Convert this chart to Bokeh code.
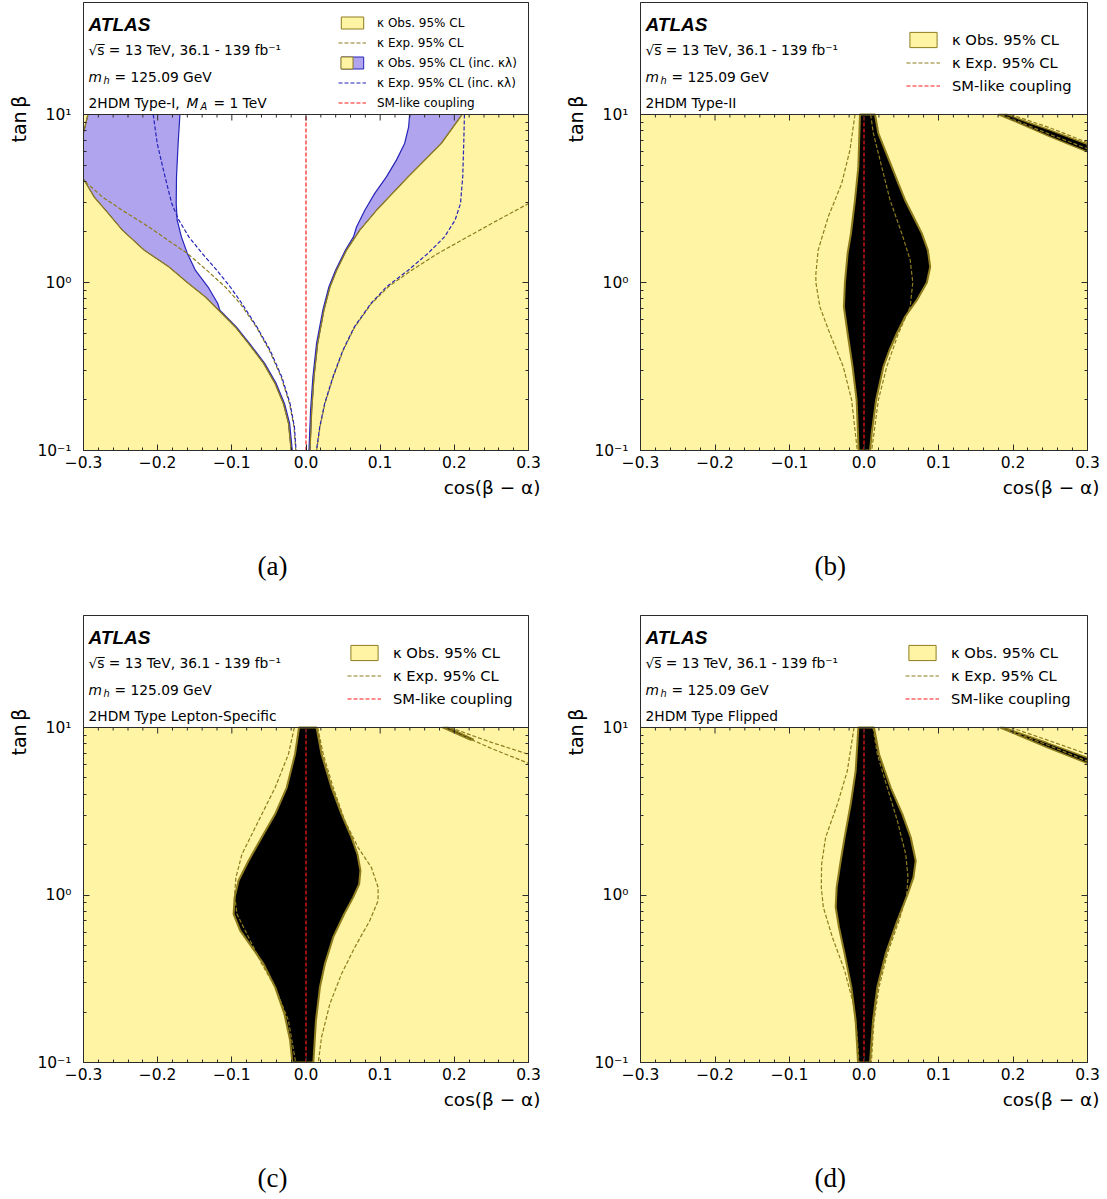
import math
from bokeh.plotting import figure
from bokeh.models import (Range1d, LogAxis, FixedTicker, CustomJSTickFormatter,
                          Label, Legend, LegendItem, Span, Title)
from bokeh.layouts import column, row
from bokeh.embed import file_html
from bokeh.resources import INLINE

# ---------------------------------------------------------------- data
COS_RANGE = [-0.3, 0.3]
TANB_RANGE = [0.1, 10.0]
X_TICKS = [-0.3, -0.2, -0.1, 0.0, 0.1, 0.2, 0.3]
X_MINOR_TICKS = [-0.28, -0.26, -0.24, -0.22, -0.18, -0.16, -0.14, -0.12,
                 -0.08, -0.06, -0.04, -0.02, 0.02, 0.04, 0.06, 0.08,
                 0.12, 0.14, 0.16, 0.18, 0.22, 0.24, 0.26, 0.28]
Y_TICKS = [0.1, 1.0, 10.0]
Y_MINOR_TICKS = [0.2, 0.3, 0.4, 0.5, 0.6, 0.7, 0.8, 0.9, 2, 3, 4, 5, 6, 7, 8, 9]
SM_COS = [0.0, 0.0]
SM_TANB = [0.1, 10.0]

# (a) Type-I, M_A = 1 TeV
A_OBS_L_TANB = [10.0, 8.44, 7.5, 6.0, 5.0, 4.25, 4.06, 3.23, 2.69, 2.05, 1.56, 1.24, 1.0,
                0.82, 0.684, 0.544, 0.433, 0.33, 0.25, 0.19, 0.145, 0.1]
A_OBS_L_COS = [-0.294, -0.298, -0.301, -0.305, -0.305, -0.302, -0.299, -0.2856, -0.270,
               -0.2476, -0.2184, -0.185, -0.160, -0.1356, -0.1177, -0.0954, -0.0774,
               -0.0572, -0.0416, -0.0304, -0.0236, -0.020]
A_OBS_R_TANB = [10.0, 6.72, 4.25, 2.69, 2.05, 1.56, 1.18, 0.94, 0.684, 0.433, 0.274, 0.174, 0.1]
A_OBS_R_COS = [0.2105, 0.1823, 0.1375, 0.095, 0.0725, 0.0547, 0.0412, 0.0323, 0.0242,
               0.0157, 0.0108, 0.0077, 0.0054]
A_KL_OBS_L_TANB = [10.0, 6.72, 4.25, 2.95, 2.35, 1.87, 1.49, 1.18, 0.94, 0.75, 0.684,
                   0.544, 0.433, 0.33, 0.25, 0.19, 0.145, 0.1]
A_KL_OBS_L_COS = [-0.170, -0.1724, -0.1746, -0.175, -0.1737, -0.168, -0.160, -0.149,
                  -0.132, -0.119, -0.1162, -0.0940, -0.0760, -0.0557, -0.0401, -0.0289,
                  -0.0221, -0.0185]
A_KL_OBS_R_TANB = [10.0, 8.44, 6.72, 5.35, 4.25, 3.39, 2.69, 2.14, 1.87, 1.56, 1.18, 0.94,
                   0.684, 0.433, 0.274, 0.174, 0.1]
A_KL_OBS_R_COS = [0.1397, 0.1384, 0.133, 0.1219, 0.1084, 0.0927, 0.0793, 0.0681, 0.0640,
                  0.0532, 0.0397, 0.0308, 0.0227, 0.0142, 0.0093, 0.0062, 0.0040]
A_EXP_L_TANB = [4.4, 4.06, 3.23, 2.69, 2.14, 1.71, 1.49, 1.18, 0.94, 0.75, 0.544, 0.395,
                0.274, 0.19, 0.138, 0.1]
A_EXP_L_COS = [-0.31, -0.300, -0.2745, -0.2476, -0.2117, -0.180, -0.160, -0.1334, -0.1088,
               -0.0887, -0.067, -0.0495, -0.0335, -0.0222, -0.0162, -0.0138]
A_EXP_R_TANB = [3.2, 2.95, 2.35, 1.87, 1.49, 1.18, 0.94, 0.75, 0.544, 0.395, 0.274, 0.19,
                0.138, 0.1]
A_EXP_R_COS = [0.315, 0.300, 0.2585, 0.218, 0.1779, 0.142, 0.1107, 0.0883, 0.0658, 0.0502,
               0.0368, 0.0255, 0.0188, 0.0144]
A_KL_EXP_L_TANB = [10.0, 6.72, 4.25, 2.95, 2.35, 1.87, 1.49, 1.18, 0.94, 0.75, 0.544, 0.395,
                   0.274, 0.19, 0.138, 0.1]
A_KL_EXP_L_COS = [-0.206, -0.2006, -0.190, -0.181, -0.1714, -0.158, -0.140, -0.120, -0.102,
                  -0.0864, -0.0662, -0.0484, -0.0326, -0.0215, -0.0156, -0.0134]
A_KL_EXP_R_TANB = [10.0, 6.72, 4.25, 2.95, 2.35, 1.87, 1.49, 1.18, 0.94, 0.75, 0.544, 0.395,
                   0.274, 0.19, 0.138, 0.1]
A_KL_EXP_R_COS = [0.2136, 0.2127, 0.2113, 0.2083, 0.201, 0.1868, 0.1644, 0.1375, 0.1084,
                  0.0875, 0.0652, 0.0497, 0.0363, 0.0251, 0.0185, 0.0141]

# (b) Type-II
B_OBS_L_TANB = [10.0, 4.88, 3.09, 1.96, 1.49, 1.0, 0.716, 0.497, 0.315, 0.2, 0.1]
B_OBS_L_COS = [-0.0054, -0.0076, -0.0121, -0.0175, -0.022, -0.0256, -0.027, -0.022,
               -0.0153, -0.0099, -0.0072]
B_OBS_R_TANB = [10.0, 7.71, 6.13, 4.88, 3.88, 3.09, 2.46, 1.96, 1.56, 1.24, 1.0, 0.785,
                0.625, 0.497, 0.395, 0.315, 0.2, 0.126, 0.1]
B_OBS_R_COS = [0.0148, 0.0193, 0.0283, 0.0373, 0.0462, 0.0552, 0.0664, 0.0776, 0.0857,
               0.0889, 0.0844, 0.0709, 0.0552, 0.044, 0.0341, 0.026, 0.0162, 0.0103, 0.0081]
B_EXP_L_TANB = [10.0, 6.13, 3.88, 2.46, 1.56, 1.13, 1.0, 0.716, 0.497, 0.315, 0.2, 0.1]
B_EXP_L_COS = [-0.0121, -0.0189, -0.030, -0.048, -0.0615, -0.0646, -0.0646, -0.0592,
               -0.0458, -0.0278, -0.0166, -0.009]
B_EXP_R_TANB = [10.0, 7.71, 4.88, 3.09, 1.96, 1.36, 1.0, 0.716, 0.497, 0.315, 0.2, 0.1]
B_EXP_R_COS = [0.009, 0.0126, 0.0238, 0.035, 0.0507, 0.062, 0.0655, 0.062, 0.0462,
               0.0305, 0.0193, 0.0103]
B_BAND_UP_COS = [0.192, 0.22, 0.25, 0.30]
B_BAND_UP_TANB = [10.0, 9.0, 8.07, 6.65]
B_BAND_LO_COS = [0.180, 0.21, 0.25, 0.30]
B_BAND_LO_TANB = [10.0, 8.8, 7.36, 5.99]
B_BAND_EXP_UP_COS = [0.197, 0.25, 0.30]
B_BAND_EXP_UP_TANB = [10.0, 8.32, 6.81]
B_BAND_EXP_LO_COS = [0.184, 0.25, 0.30]
B_BAND_EXP_LO_TANB = [10.0, 7.6, 6.25]

# (c) Lepton-Specific
C_OBS_L_TANB = [10.0, 6.92, 4.38, 3.04, 2.21, 1.60, 1.22, 0.968, 0.77, 0.613, 0.488, 0.388,
                0.282, 0.195, 0.136, 0.1]
C_OBS_L_COS = [-0.0094, -0.0148, -0.026, -0.0416, -0.0596, -0.0775, -0.0909, -0.0963,
               -0.0976, -0.0887, -0.073, -0.0573, -0.0416, -0.0291, -0.0215, -0.0184]
C_OBS_R_TANB = [10.0, 6.92, 4.38, 3.04, 2.21, 1.75, 1.40, 1.16, 0.968, 0.77, 0.56, 0.388,
                0.282, 0.178, 0.1]
C_OBS_R_COS = [0.0143, 0.021, 0.0345, 0.0479, 0.0614, 0.0694, 0.0734, 0.0717, 0.0636,
               0.0515, 0.0367, 0.0255, 0.0188, 0.0134, 0.0099]
C_EXP_L_TANB = [10.0, 6.92, 4.38, 2.77, 1.75, 1.27, 1.0, 0.77, 0.56, 0.388, 0.282, 0.178, 0.1]
C_EXP_L_COS = [-0.0157, -0.0237, -0.0416, -0.064, -0.0864, -0.0945, -0.0963, -0.0931,
               -0.0775, -0.0596, -0.0416, -0.0237, -0.0139]
C_EXP_R_TANB = [10.0, 6.92, 4.38, 2.77, 1.92, 1.46, 1.11, 0.925, 0.703, 0.488, 0.338, 0.224,
                0.142, 0.1]
C_EXP_R_COS = [0.0157, 0.0233, 0.0367, 0.0524, 0.0703, 0.0882, 0.0972, 0.0972, 0.086,
               0.0658, 0.0479, 0.0322, 0.021, 0.0166]
C_BAND_UP_COS = [0.192, 0.226]
C_BAND_UP_TANB = [10.0, 8.5]
C_BAND_LO_COS = [0.184, 0.222]
C_BAND_LO_TANB = [10.0, 8.42]
C_BAND_EXP_UP_COS = [0.194, 0.25, 0.30]
C_BAND_EXP_UP_TANB = [10.0, 8.15, 6.92]
C_BAND_EXP_LO_COS = [0.186, 0.25, 0.30]
C_BAND_EXP_LO_TANB = [10.0, 7.5, 6.11]

# (d) Flipped
D_OBS_L_TANB = [10.0, 5.5, 3.48, 2.21, 1.60, 1.11, 0.845, 0.642, 0.445, 0.282, 0.178, 0.1]
D_OBS_L_COS = [-0.0076, -0.0112, -0.0179, -0.026, -0.0313, -0.0367, -0.038, -0.0336,
               -0.026, -0.017, -0.0112, -0.008]
D_OBS_R_TANB = [10.0, 6.92, 4.38, 3.04, 2.21, 1.60, 1.27, 1.0, 0.703, 0.445, 0.282, 0.178, 0.1]
D_OBS_R_COS = [0.0134, 0.0202, 0.0358, 0.0515, 0.0627, 0.0694, 0.0663, 0.0582, 0.0448,
               0.0291, 0.0179, 0.0121, 0.0081]
D_EXP_L_TANB = [10.0, 5.5, 3.48, 2.21, 1.53, 1.11, 0.845, 0.56, 0.354, 0.224, 0.142, 0.1]
D_EXP_L_COS = [-0.0134, -0.0224, -0.0358, -0.0515, -0.0569, -0.0573, -0.0546, -0.0425,
               -0.026, -0.0143, -0.009, -0.0067]
D_EXP_R_TANB = [10.0, 6.92, 4.38, 2.77, 1.75, 1.27, 1.0, 0.703, 0.445, 0.282, 0.178, 0.1]
D_EXP_R_COS = [0.0121, 0.0179, 0.0313, 0.0448, 0.056, 0.0591, 0.0573, 0.047, 0.0313,
               0.0202, 0.0134, 0.0099]
D_BAND_UP_COS = [0.188, 0.246, 0.30]
D_BAND_UP_TANB = [10.0, 8.1, 6.6]
D_BAND_LO_COS = [0.182, 0.246, 0.30]
D_BAND_LO_TANB = [10.0, 7.6, 6.1]
D_BAND_EXP_UP_COS = [0.197, 0.25, 0.30]
D_BAND_EXP_UP_TANB = [10.0, 8.3, 6.92]
D_BAND_EXP_LO_COS = [0.184, 0.25, 0.30]
D_BAND_EXP_LO_TANB = [10.0, 7.75, 6.3]

LEG_OBS = "κ Obs. 95% CL"
LEG_EXP = "κ Exp. 95% CL"
LEG_OBS_KL = "κ Obs. 95% CL (inc. κλ)"
LEG_EXP_KL = "κ Exp. 95% CL (inc. κλ)"
LEG_SM = "SM-like coupling"

# ---------------------------------------------------------------- style
YEL = "#fff4a3"
OLIVE = "#8e7c1f"
PURPLE = "#b1a4ef"
BLUE = "#2424b8"
RED = "#ff1a1a"
AX = "#2b2b2b"
FONT = "DejaVu Sans"
DASH = "4 2"

XFMT = "return (tick < -1e-9 ? '\\u2212' : '') + Math.abs(tick).toFixed(1);"
YFMT = ("const e = Math.round(Math.log10(tick));"
        "const m = {'-':'\\u207b','0':'\\u2070','1':'\\u00b9','2':'\\u00b2','3':'\\u00b3'};"
        "return '10' + String(e).split('').map(c => m[c]).join('');")


def new_fig(width, height, bl, br, bt, bb, frame_h, decade_px):
    ytop = 10 ** (frame_h / decade_px + math.log10(TANB_RANGE[0]))
    p = figure(width=width, height=height,
               x_range=Range1d(COS_RANGE[0], COS_RANGE[1]),
               y_range=Range1d(TANB_RANGE[0], ytop), y_axis_type="log",
               output_backend="svg", toolbar_location=None, title=None,
               min_border_left=bl, min_border_right=br,
               min_border_top=bt, min_border_bottom=bb)
    p.grid.visible = False
    p.outline_line_color = AX
    p.outline_line_width = 1
    xa = p.xaxis[0]
    ya = p.yaxis[0]
    xa.ticker = FixedTicker(ticks=X_TICKS, minor_ticks=X_MINOR_TICKS)
    xa.formatter = CustomJSTickFormatter(code=XFMT)
    ya.ticker = FixedTicker(ticks=Y_TICKS, minor_ticks=Y_MINOR_TICKS)
    ya.formatter = CustomJSTickFormatter(code=YFMT)
    ra = LogAxis(ticker=FixedTicker(ticks=Y_TICKS, minor_ticks=Y_MINOR_TICKS),
                 formatter=CustomJSTickFormatter(code="return '';"),
                 major_label_text_font_size="0px", major_label_standoff=0)
    p.add_layout(ra, "right")
    for ax in (xa, ya, ra):
        ax.major_tick_in = 6
        ax.major_tick_out = 0
        ax.minor_tick_in = 3
        ax.minor_tick_out = 0
        ax.axis_line_color = AX
        ax.major_tick_line_color = AX
        ax.minor_tick_line_color = AX
        ax.major_label_text_font = FONT
        ax.major_label_text_color = "black"
    xa.major_label_text_font_size = "15.5px"
    xa.major_label_standoff = 5
    ya.major_label_text_font_size = "15.5px"
    ya.major_label_standoff = 12
    return p


def lab(p, text, x, y, xo, yo, size, font=FONT, style="normal", align="left",
        baseline="alphabetic"):
    p.add_layout(Label(x=x, y=y, x_offset=xo, y_offset=yo, text=text, text_font=font,
                       text_font_size=f"{size}px", text_font_style=style,
                       text_align=align, text_baseline=baseline, text_color="black"))


def title(p, text, side, align, offset, standoff, size, font=FONT):
    p.add_layout(Title(text=text, align=align, offset=offset, standoff=standoff,
                       text_font=font, text_font_size=f"{size}px",
                       text_font_style="normal", text_color="black"), side)


def finish(p, line4, caption):
    top = TANB_RANGE[1]
    p.ray(x=X_TICKS, y=[top] * len(X_TICKS), length=6, angle=-math.pi / 2,
          length_units="screen", line_color=AX, line_width=1)
    p.ray(x=X_MINOR_TICKS, y=[top] * len(X_MINOR_TICKS), length=3, angle=-math.pi / 2,
          length_units="screen", line_color=AX, line_width=1)
    p.add_layout(Span(location=top, dimension="width", line_color=AX, line_width=1))
    x0 = COS_RANGE[0]
    lab(p, "ATLAS", x0, top, 5, 90, 19, font="Liberation Sans", style="bold italic")
    lab(p, "\u221as\u0305 = 13 TeV, 36.1 - 139 fb\u207b\u00b9", x0, top, 5, 65, 13.8)
    lab(p, "m", x0, top, 5, 38, 13.8, style="italic")
    lab(p, "h", x0, top, 20, 34.5, 9.8, style="italic")
    lab(p, "= 125.09 GeV", x0, top, 31, 38, 13.8)
    for (txt, xo, yo, size, style) in line4:
        lab(p, txt, x0, top, xo, yo, size, style=style)
    # below the frame: axis title, spacer, sub-figure caption
    title(p, "cos(\u03b2 \u2212 \u03b1)", "below", "right", -12, 8, 18.5)
    title(p, "\u00a0", "below", "center", 0, 36, 8)
    title(p, caption, "below", "left", 174, 0, 27, font="Liberation Serif")
    # left of the frame: y axis title
    title(p, "tan\u2009\u03b2", "left", "right", 93, 10, 19)


def add_legend(p, items, x0_page, top_page, frame_left_page, frame_bottom_page,
               h, s, gw, standoff, fsize):
    n = len(items)
    height = n * h + (n - 1) * s
    leg = Legend(items=items,
                 location=(x0_page - frame_left_page, frame_bottom_page - top_page - height),
                 orientation="vertical", glyph_width=gw, glyph_height=h, label_height=h,
                 label_standoff=standoff, spacing=s, padding=0, margin=0,
                 background_fill_alpha=0, border_line_alpha=0,
                 label_text_font=FONT, label_text_font_size=f"{fsize}px",
                 label_text_color="black")
    p.add_layout(leg)
    return leg


def background(p):
    c0, c1 = COS_RANGE
    t0, t1 = TANB_RANGE
    return p.patch(x=[c0, c1, c1, c0], y=[t0, t0, t1, t1], fill_color=YEL,
                   line_color=OLIVE, line_width=1)


# ---------------------------------------------------------------- panel (a)
pa = new_fig(542, 600, 81, 14, 2, 150, 448, 168)
bg_a = background(pa)
purple = pa.patch(x=A_OBS_L_COS + A_OBS_R_COS[::-1], y=A_OBS_L_TANB + A_OBS_R_TANB[::-1],
                  fill_color=PURPLE, line_color=BLUE, line_width=1)
pa.patch(x=A_KL_OBS_L_COS + A_KL_OBS_R_COS[::-1], y=A_KL_OBS_L_TANB + A_KL_OBS_R_TANB[::-1],
         fill_color="white", line_color=BLUE, line_width=1.2)
pa.line(A_OBS_L_COS, A_OBS_L_TANB, line_color=OLIVE, line_width=1.3)
pa.line(A_OBS_R_COS, A_OBS_R_TANB, line_color=OLIVE, line_width=1.3)
exp_a = pa.line(A_EXP_L_COS, A_EXP_L_TANB, line_color=OLIVE, line_width=1.2, line_dash=DASH)
pa.line(A_EXP_R_COS, A_EXP_R_TANB, line_color=OLIVE, line_width=1.2, line_dash=DASH)
kexp_a = pa.line(A_KL_EXP_L_COS, A_KL_EXP_L_TANB, line_color=BLUE, line_width=1.2,
                 line_dash=DASH)
pa.line(A_KL_EXP_R_COS, A_KL_EXP_R_TANB, line_color=BLUE, line_width=1.2, line_dash=DASH)
sm_a = pa.line(SM_COS, SM_TANB, line_color=RED, line_width=1.2, line_dash=DASH)
finish(pa, [("2HDM Type-I,", 5, 12, 13.8, "normal"), ("M", 103, 12, 13.8, "italic"),
            ("A", 117, 8.5, 9.8, "italic"), ("= 1 TeV", 130, 12, 13.8, "normal")], "(a)")
add_legend(pa, [LegendItem(label=LEG_OBS, renderers=[bg_a]),
                LegendItem(label=LEG_EXP, renderers=[exp_a]),
                LegendItem(label=LEG_OBS_KL, renderers=[purple]),
                LegendItem(label=LEG_EXP_KL, renderers=[kexp_a]),
                LegendItem(label=LEG_SM, renderers=[sm_a])],
           336, 15, 81, 450, 15, 5, 28, 11, 12)
# left (yellow) half of the combined "inc. kappa_lambda" key
add_legend(pa, [LegendItem(label=" ", renderers=[bg_a])],
           337.3, 55, 81, 450, 15, 5, 15, 2, 12)


# ---------------------------------------------------------------- panels (b)-(d)
def type_panel(width, height, bl, br, bt, bb, frame_h, decade, obs_l, obs_r, exp_l, exp_r,
               band_up, band_lo, bexp_up, bexp_lo, name, caption,
               leg_x0, leg_top, frame_left, frame_bottom):
    p = new_fig(width, height, bl, br, bt, bb, frame_h, decade)
    bg = background(p)
    p.patch(x=obs_l[0] + obs_r[0][::-1], y=obs_l[1] + obs_r[1][::-1], fill_color="black",
            line_color=OLIVE, line_width=2)
    p.patch(x=band_up[0] + band_lo[0][::-1], y=band_up[1] + band_lo[1][::-1],
            fill_color="black", line_color=OLIVE, line_width=1.5)
    ex = p.line(exp_l[0], exp_l[1], line_color=OLIVE, line_width=1.2, line_dash=DASH)
    p.line(exp_r[0], exp_r[1], line_color=OLIVE, line_width=1.2, line_dash=DASH)
    p.line(bexp_up[0], bexp_up[1], line_color=OLIVE, line_width=1.2, line_dash=DASH)
    p.line(bexp_lo[0], bexp_lo[1], line_color=OLIVE, line_width=1.2, line_dash=DASH)
    sm = p.line(SM_COS, SM_TANB, line_color=RED, line_width=1.2, line_dash=DASH)
    finish(p, [(name, 5, 12, 13.8, "normal")], caption)
    add_legend(p, [LegendItem(label=LEG_OBS, renderers=[bg]),
                   LegendItem(label=LEG_EXP, renderers=[ex]),
                   LegendItem(label=LEG_SM, renderers=[sm])],
               leg_x0, leg_top, frame_left, frame_bottom, 19, 4, 34, 12, 14.7)
    return p


pb = type_panel(565, 600, 98, 20, 2, 150, 448, 168,
                (B_OBS_L_COS, B_OBS_L_TANB), (B_OBS_R_COS, B_OBS_R_TANB),
                (B_EXP_L_COS, B_EXP_L_TANB), (B_EXP_R_COS, B_EXP_R_TANB),
                (B_BAND_UP_COS, B_BAND_UP_TANB), (B_BAND_LO_COS, B_BAND_LO_TANB),
                (B_BAND_EXP_UP_COS, B_BAND_EXP_UP_TANB), (B_BAND_EXP_LO_COS, B_BAND_EXP_LO_TANB),
                "2HDM Type-II", "(b)", 906, 30, 640, 450)
pc = type_panel(542, 598, 81, 14, 15, 136, 447, 167.5,
                (C_OBS_L_COS, C_OBS_L_TANB), (C_OBS_R_COS, C_OBS_R_TANB),
                (C_EXP_L_COS, C_EXP_L_TANB), (C_EXP_R_COS, C_EXP_R_TANB),
                (C_BAND_UP_COS, C_BAND_UP_TANB), (C_BAND_LO_COS, C_BAND_LO_TANB),
                (C_BAND_EXP_UP_COS, C_BAND_EXP_UP_TANB), (C_BAND_EXP_LO_COS, C_BAND_EXP_LO_TANB),
                "2HDM Type Lepton-Specific", "(c)", 345, 643, 81, 1062)
pd = type_panel(565, 598, 98, 20, 15, 136, 447, 167.5,
                (D_OBS_L_COS, D_OBS_L_TANB), (D_OBS_R_COS, D_OBS_R_TANB),
                (D_EXP_L_COS, D_EXP_L_TANB), (D_EXP_R_COS, D_EXP_R_TANB),
                (D_BAND_UP_COS, D_BAND_UP_TANB), (D_BAND_LO_COS, D_BAND_LO_TANB),
                (D_BAND_EXP_UP_COS, D_BAND_EXP_UP_TANB), (D_BAND_EXP_LO_COS, D_BAND_EXP_LO_TANB),
                "2HDM Type Flipped", "(d)", 905, 643, 640, 1062)

layout = column(row(pa, pb), row(pc, pd))
with open("out.html", "w") as f:
    f.write(file_html(layout, INLINE, title="2HDM kappa constraints"))
